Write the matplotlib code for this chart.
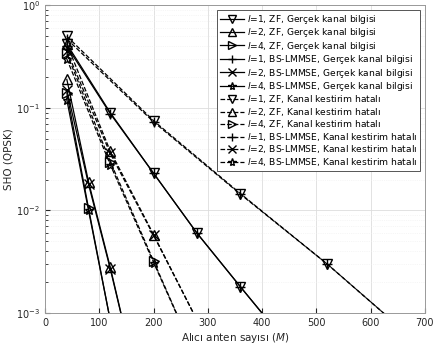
import matplotlib.pyplot as plt
import numpy as np

# l=1, kanal kestirim hatali (ZF / BS-LMMSE)
m_l1_est = [40, 200, 360, 520, 680]
zf_l1_est = [0.50, 0.075, 0.0146, 0.0030, 0.00055]
bs_l1_est = [0.47, 0.073, 0.0144, 0.0030, 0.00055]

# l=1, gercek kanal bilgisi
m_l1 = [40, 120, 200, 280, 360, 440]
zf_l1 = [0.42, 0.090, 0.023, 0.0060, 0.0018, 0.00055]
bs_l1 = [0.40, 0.088, 0.023, 0.0060, 0.0018, 0.00055]

# l=2 / l=4, kanal kestirim hatali
m_est = [40, 120, 200, 280]
zf_l2_est = [0.42, 0.038, 0.0058, 0.00085]
bs_l2_est = [0.36, 0.036, 0.0057, 0.00085]
zf_l4_est = [0.34, 0.030, 0.0032, 0.00035]
bs_l4_est = [0.30, 0.028, 0.0031, 0.00035]

# l=2 / l=4, gercek kanal bilgisi
m_perf = [40, 80, 120, 160]
zf_l2 = [0.19, 0.019, 0.0028, 0.00035]
bs_l2 = [0.15, 0.018, 0.0027, 0.00035]
zf_l4 = [0.14, 0.0105, 0.00085, 0.00007]
bs_l4 = [0.12, 0.0100, 0.00085, 0.00007]

series = [
    (m_l1, zf_l1, 'v', '-', r'$l$=1, ZF, Gerçek kanal bilgisi'),
    (m_perf, zf_l2, '^', '-', r'$l$=2, ZF, Gerçek kanal bilgisi'),
    (m_perf, zf_l4, '>', '-', r'$l$=4, ZF, Gerçek kanal bilgisi'),
    (m_l1, bs_l1, '+', '-', r'$l$=1, BS-LMMSE, Gerçek kanal bilgisi'),
    (m_perf, bs_l2, 'x', '-', r'$l$=2, BS-LMMSE, Gerçek kanal bilgisi'),
    (m_perf, bs_l4, '*', '-', r'$l$=4, BS-LMMSE, Gerçek kanal bilgisi'),
    (m_l1_est, zf_l1_est, 'v', '--', r'$l$=1, ZF, Kanal kestirim hatalı'),
    (m_est, zf_l2_est, '^', '--', r'$l$=2, ZF, Kanal kestirim hatalı'),
    (m_est, zf_l4_est, '>', '--', r'$l$=4, ZF, Kanal kestirim hatalı'),
    (m_l1_est, bs_l1_est, '+', '--', r'$l$=1, BS-LMMSE, Kanal kestirim hatalı'),
    (m_est, bs_l2_est, 'x', '--', r'$l$=2, BS-LMMSE, Kanal kestirim hatalı'),
    (m_est, bs_l4_est, '*', '--', r'$l$=4, BS-LMMSE, Kanal kestirim hatalı'),
]

gray = '#262626'
fig = plt.figure(figsize=(4.34, 3.61), dpi=100)
ax = fig.add_axes([0.104, 0.133, 0.875, 0.852])

for x, y, mk, ls, lab in series:
    ax.semilogy(x, y, color='black', linestyle=ls, marker=mk, markersize=6.5,
                markerfacecolor='none', linewidth=0.9, label=lab)

ax.set_xlim(0, 700)
ax.set_ylim(1e-3, 1)
ax.set_xticks(np.arange(0, 701, 100))
ax.grid(True, which='major', color='#dddddd', linewidth=0.6)
ax.grid(True, which='minor', color='#eeeeee', linewidth=0.5, linestyle=':')
ax.tick_params(labelsize=7, colors=gray, direction='in', which='both')
for s in ax.spines.values():
    s.set_color('#999999')
    s.set_linewidth(0.7)
ax.set_xlabel(r'Alıcı anten sayısı ($M$)', fontsize=7.5, color=gray, labelpad=2)
ax.set_ylabel('SHO (QPSK)', fontsize=7.5, color=gray, labelpad=2)

leg = ax.legend(loc='upper right', fontsize=6.6, handlelength=2.6, labelspacing=0.05,
                borderpad=0.3, handletextpad=0.4, fancybox=False, framealpha=1,
                borderaxespad=0.5, markerscale=0.9)
leg.get_frame().set_edgecolor('#555555')
leg.get_frame().set_linewidth(0.7)

fig.savefig('out.png', dpi=100)
